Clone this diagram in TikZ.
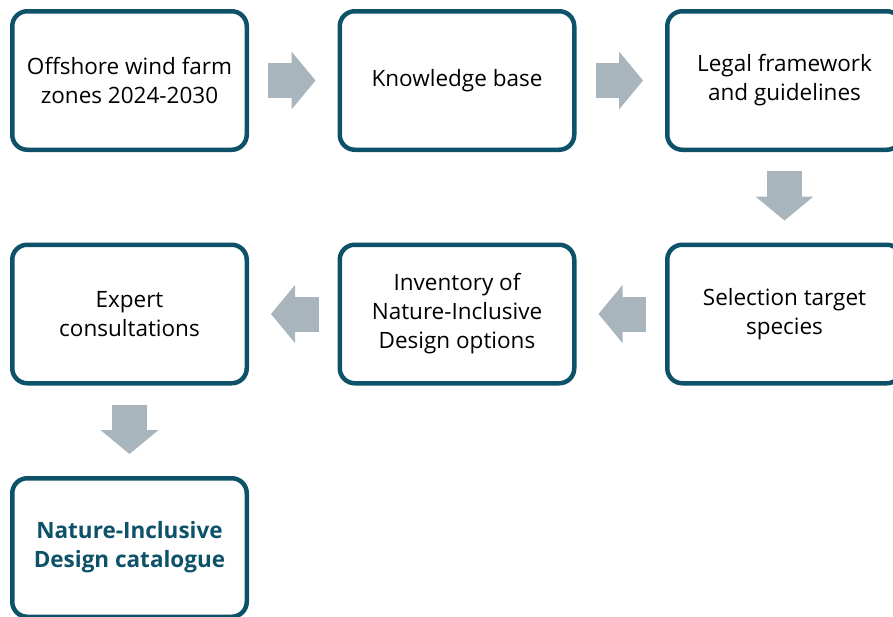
\documentclass[tikz,border=0pt]{standalone}
\usepackage{fontspec}
\setmainfont{Open Sans}
\usetikzlibrary{arrows.meta}

\definecolor{azul}{RGB}{14,82,106}
\definecolor{gris}{RGB}{169,181,188}

\tikzset{
  caja/.style={draw=azul, line width=4.5pt, rounded corners=15pt, fill=white,
    minimum width=234.5pt, minimum height=138.5pt, align=center,
    font=\fontsize{22.5}{29}\selectfont},
  % el trazo extra tapa la junta entre cuerpo y punta
  flecha/.style={draw=gris, line width=35pt, shorten <=19pt, shorten >=22pt,
    -{Triangle[width=58pt,length=24pt,line width=0pt]},
    postaction={draw=gris, -, shorten >=40pt}}
}

\begin{document}
\begin{tikzpicture}[x=1pt,y=-1pt]
  \useasboundingbox (0,0) rectangle (893,616);
  \clip (0,0) rectangle (893,616);

  % Cajas
  \node[caja] (zonas)      at (129.5,80.5) {Offshore wind farm\\zones 2024-2030};
  \node[caja] (base)       at (457,80.5)   {Knowledge base};
  \node[caja] (legal)      at (784.5,80.5) {Legal framework\\and guidelines};
  \node[caja] (especies)   at (784.5,314)  {Selection target\\species};
  \node[caja] (inventario) at (457,314)    {Inventory of\\Nature-Inclusive\\Design options};
  \node[caja] (expertos)   at (129.5,314)  {Expert\\consultations};
  \node[caja, text=azul, font=\fontsize{22.5}{29}\selectfont\bfseries]
              (catalogo)   at (129.5,547.5) {Nature-Inclusive\\Design catalogue};

  % Flechas
  \draw[flecha] (zonas) -- (base);
  \draw[flecha] (base) -- (legal);
  \draw[flecha] (legal) -- (especies);
  \draw[flecha] (especies) -- (inventario);
  \draw[flecha] (inventario) -- (expertos);
  \draw[flecha] (expertos) -- (catalogo);
\end{tikzpicture}
\end{document}
